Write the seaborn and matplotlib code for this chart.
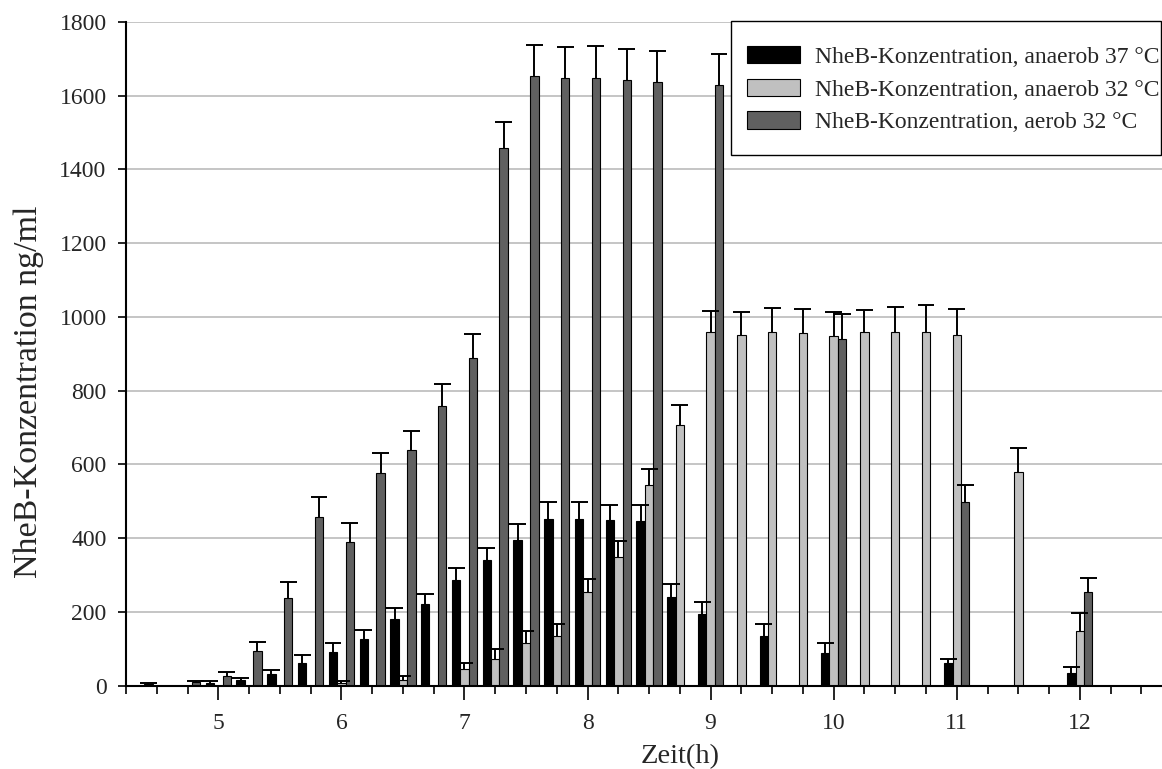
import matplotlib
matplotlib.use("Agg")
import matplotlib.pyplot as plt
import seaborn as sns
import pandas as pd
from matplotlib.patches import Patch, Rectangle

# ---- data -------------------------------------------------------------
zeit = ["4.25", "4.5", "4.75", "5", "5.25", "5.5", "5.75", "6", "6.25", "6.5",
        "6.75", "7", "7.25", "7.5", "7.75", "8", "8.25", "8.5", "8.75", "9",
        "9.25", "9.5", "9.75", "10", "10.25", "10.5", "10.75", "11", "11.25",
        "11.5", "11.75", "12", "12.25", "12.5"]

serien = ["NheB-Konzentration, anaerob 37 °C",
          "NheB-Konzentration, anaerob 32 °C",
          "NheB-Konzentration, aerob 32 °C"]

anaerob37 = [0, 4, 0, 8, 15, 30, 61, 90, 126, 180,
             222, 285, 341, 394, 451, 451, 448, 445, 240, 193,
             0, 134, 0, 89, 0, 0, 0, 60, 0,
             0, 0, 35, 0, 0]
anaerob37_err = [0, 2, 0, 5, 6, 12, 22, 24, 24, 31,
                 25, 34, 33, 43, 47, 47, 41, 44, 35, 34,
                 0, 32, 0, 25, 0, 0, 0, 13, 0,
                 0, 0, 14, 0, 0]

anaerob32 = [0, 0, 0, 0, 0, 0, 0, 8, 0, 16,
             0, 46, 71, 114, 134, 254, 349, 543, 708, 958,
             952, 958, 955, 948, 958, 958, 958, 950, 0,
             579, 0, 148, 0, 0]
anaerob32_err = [0, 0, 0, 0, 0, 0, 0, 3, 0, 11,
                 0, 15, 28, 34, 34, 34, 43, 45, 54, 59,
                 62, 65, 67, 66, 60, 69, 75, 72, 0,
                 66, 0, 49, 0, 0]

aerob32 = [0, 0, 9, 26, 93, 238, 457, 388, 577, 638,
           757, 888, 1457, 1653, 1648, 1648, 1644, 1638, 0, 1630,
           0, 0, 0, 941, 0, 0, 0, 497, 0,
           0, 0, 254, 0, 0]
aerob32_err = [0, 0, 4, 11, 25, 43, 54, 53, 54, 53,
               62, 65, 73, 85, 85, 87, 82, 83, 0, 83,
               0, 0, 0, 67, 0, 0, 0, 46, 0,
               0, 0, 38, 0, 0]

stunden = ["5", "6", "7", "8", "9", "10", "11", "12"]
y_ticks = [0, 200, 400, 600, 800, 1000, 1200, 1400, 1600, 1800]

farben = ["#000000", "#c0c0c0", "#606060"]

# ---- frame ------------------------------------------------------------
werte = [anaerob37, anaerob32, aerob32]
fehler = [anaerob37_err, anaerob32_err, aerob32_err]
rows = []
for s, vals in zip(serien, werte):
    for z, v in zip(zeit, vals):
        rows.append({"Zeit": z, "Serie": s, "Wert": v})
df = pd.DataFrame(rows)

sns.set_theme(style="ticks")
plt.rcParams["font.family"] = ["Liberation Serif", "DejaVu Serif"]

W, H = 1162, 769
fig = plt.figure(figsize=(W / 100, H / 100), dpi=100)
ax_l, ax_b, ax_r, ax_t = 126, 685.5, 1162, 22
ax = fig.add_axes([ax_l / W, 1 - ax_b / H, (ax_r - ax_l) / W, (ax_b - ax_t) / H])

sns.barplot(data=df, x="Zeit", y="Wert", hue="Serie", order=zeit,
            hue_order=serien, palette=farben, width=0.82, errorbar=None,
            edgecolor="#000000", linewidth=0.8, legend=False, ax=ax,
            zorder=2)

# error bars (only upward, as in the original)
capw = 0.55
for cont, errs in zip(ax.containers, fehler):
    for p in cont.patches:
        xc = p.get_x() + p.get_width() / 2
        idx = int(round(xc))
        h = p.get_height()
        e = errs[idx]
        if h > 0 and e > 0:
            ax.vlines(xc, h, h + e, color="black", lw=1.4, zorder=3)
            ax.hlines(h + e, xc - capw / 2, xc + capw / 2, color="black",
                      lw=1.4, zorder=3)

ax.set_ylim(0, 1800)
ax.set_xlim(0, 33.67)
ax.set_yticks(y_ticks)
ax.set_yticklabels([str(v) for v in y_ticks])
ax.yaxis.grid(True, color="#c0c0c0", lw=1.3)
ax.xaxis.grid(False)
ax.set_axisbelow(True)

pos_stunden = [zeit.index(s) for s in stunden]
ax.set_xticks(pos_stunden)
ax.set_xticklabels(stunden)
ax.set_xticks([i for i in range(len(zeit)) if i not in pos_stunden], minor=True)

ax.tick_params(axis="x", which="major", length=10, width=1.2, direction="out",
               labelsize=17, pad=9.5, color="black")
ax.tick_params(axis="x", which="minor", length=5.5, width=1.2,
               direction="out", color="black")
ax.tick_params(axis="y", which="major", length=6, width=1.2, direction="out",
               labelsize=17, pad=8, color="black")

for side in ["top", "right"]:
    ax.spines[side].set_visible(False)
for side in ["left", "bottom"]:
    ax.spines[side].set_color("black")
    ax.spines[side].set_linewidth(1.5)

# axis titles
ax.set_xlabel("Zeit(h)", fontsize=20.5)
ax.xaxis.set_label_coords((680 - ax_l) / (ax_r - ax_l), (ax_b - 757) / (ax_b - ax_t))
ax.xaxis.label.set_verticalalignment("center")
ax.set_ylabel("NheB-Konzentration ng/ml", fontsize=24.5)
ax.yaxis.set_label_coords((29 - ax_l) / (ax_r - ax_l), (ax_b - 392) / (ax_b - ax_t))
ax.yaxis.label.set_verticalalignment("center")
ax.yaxis.label.set_horizontalalignment("center")

# legend with box as in the original
frame = Rectangle((731 / W, 1 - 155 / H), 430 / W, 134 / H,
                  transform=fig.transFigure, facecolor="white",
                  edgecolor="black", linewidth=1.0, zorder=4)
fig.patches.append(frame)
handles = [Patch(facecolor=c, edgecolor="black", linewidth=0.8, label=s)
           for c, s in zip(farben, serien)]
leg = fig.legend(handles=handles, loc="upper left",
                 bbox_to_anchor=(747 / W, 1 - 46 / H),
                 bbox_transform=fig.transFigure, frameon=False,
                 fontsize=17, handlelength=2.25, handleheight=0.76,
                 labelspacing=0.45, borderpad=0, handletextpad=0.64,
                 borderaxespad=0)
leg.set_zorder(5)

fig.savefig("out.png", dpi=100)
